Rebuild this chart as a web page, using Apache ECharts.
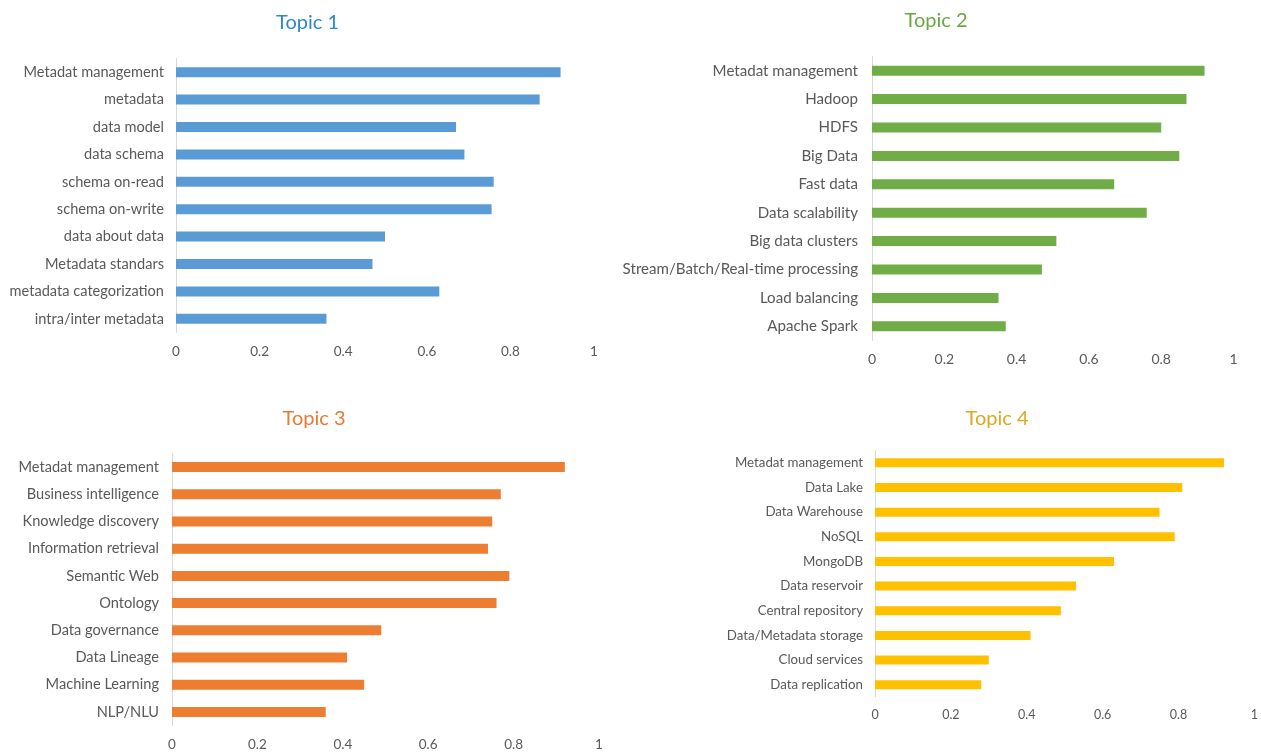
<!DOCTYPE html>
<html>
<head>
<meta charset="utf-8">
<script src="https://cdn.jsdelivr.net/npm/echarts@6/dist/echarts.min.js"></script>
<style>
html,body{margin:0;padding:0;background:#fff;}
#chart{width:1261px;height:754px;}
</style>
</head>
<body>
<div id="chart"></div>
<script>
// ---- Data ----
const titles = ['Topic 1', 'Topic 2', 'Topic 3', 'Topic 4'];

const categories1 = ['Metadat management', 'metadata', 'data model', 'data schema', 'schema on-read',
  'schema on-write', 'data about data', 'Metadata standars', 'metadata categorization', 'intra/inter metadata'];
const values1 = [0.92, 0.87, 0.67, 0.69, 0.76, 0.755, 0.50, 0.47, 0.63, 0.36];

const categories2 = ['Metadat management', 'Hadoop', 'HDFS', 'Big Data', 'Fast data', 'Data scalability',
  'Big data clusters', 'Stream/Batch/Real-time processing', 'Load balancing', 'Apache Spark'];
const values2 = [0.92, 0.87, 0.80, 0.85, 0.67, 0.76, 0.51, 0.47, 0.35, 0.37];

const categories3 = ['Metadat management', 'Business intelligence', 'Knowledge discovery', 'Information retrieval',
  'Semantic Web', 'Ontology', 'Data governance', 'Data Lineage', 'Machine Learning', 'NLP/NLU'];
const values3 = [0.92, 0.77, 0.75, 0.74, 0.79, 0.76, 0.49, 0.41, 0.45, 0.36];

const categories4 = ['Metadat management', 'Data Lake', 'Data Warehouse', 'NoSQL', 'MongoDB', 'Data reservoir',
  'Central repository', 'Data/Metadata storage', 'Cloud services', 'Data replication'];
const values4 = [0.92, 0.81, 0.75, 0.79, 0.63, 0.53, 0.49, 0.41, 0.30, 0.28];

const xMin = 0, xMax = 1, xStep = 0.2;

// ---- Layout / style (not data) ----
const FONT = 'Lato';
const barColors = ['#5B9BD5', '#70AD47', '#ED7D31', '#FFC000'];
const titleColors = ['#2E86D0', '#6AA843', '#E87A32', '#DCA823'];
const grids = [
  {left: 176, top: 58.5, width: 418, height: 274},
  {left: 872, top: 56.5, width: 361.5, height: 284},
  {left: 172, top: 453.5, width: 427, height: 272},
  {left: 875, top: 450.5, width: 383, height: 246.5}
];
const titlePos = [[307.5, 13], [936, 11], [314, 409], [997, 409]];
const yMargins = [12, 14, 13, 12];
const xMargins = [12, 12, 12, 11];
const labelSizes = [14.6, 15.1, 14.6, 13.3];
const tickSizes = [13.5, 14, 13.5, 12.5];
const barWidths = [10, 10, 10, 9];

const cats = [categories1, categories2, categories3, categories4];
const vals = [values1, values2, values3, values4];

const option = {
  animation: false,
  backgroundColor: '#ffffff',
  title: titles.map((t, i) => ({
    text: t,
    left: titlePos[i][0],
    top: titlePos[i][1],
    textAlign: 'center',
    padding: 0,
    textStyle: {fontFamily: FONT, fontSize: 20, fontWeight: 'normal', color: titleColors[i]}
  })),
  grid: grids.map(g => Object.assign({containLabel: false}, g)),
  xAxis: grids.map((g, i) => ({
    type: 'value', gridIndex: i, min: xMin, max: xMax, interval: xStep,
    axisLine: {show: false}, axisTick: {show: false}, splitLine: {show: false},
    axisLabel: {color: '#595959', fontFamily: FONT, fontSize: tickSizes[i], margin: xMargins[i]}
  })),
  yAxis: cats.map((c, i) => ({
    type: 'category', gridIndex: i, data: c, inverse: true,
    axisLine: {show: true, lineStyle: {color: '#D9D9D9', width: 1}},
    axisTick: {show: false}, splitLine: {show: false},
    axisLabel: {color: '#595959', fontFamily: FONT, fontSize: labelSizes[i], margin: yMargins[i], interval: 0}
  })),
  series: vals.map((v, i) => ({
    type: 'bar', xAxisIndex: i, yAxisIndex: i, data: v,
    barWidth: barWidths[i], itemStyle: {color: barColors[i]}
  }))
};

const chart = echarts.init(document.getElementById('chart'), null, {renderer: 'canvas'});
chart.setOption(option);
</script>
</body>
</html>
